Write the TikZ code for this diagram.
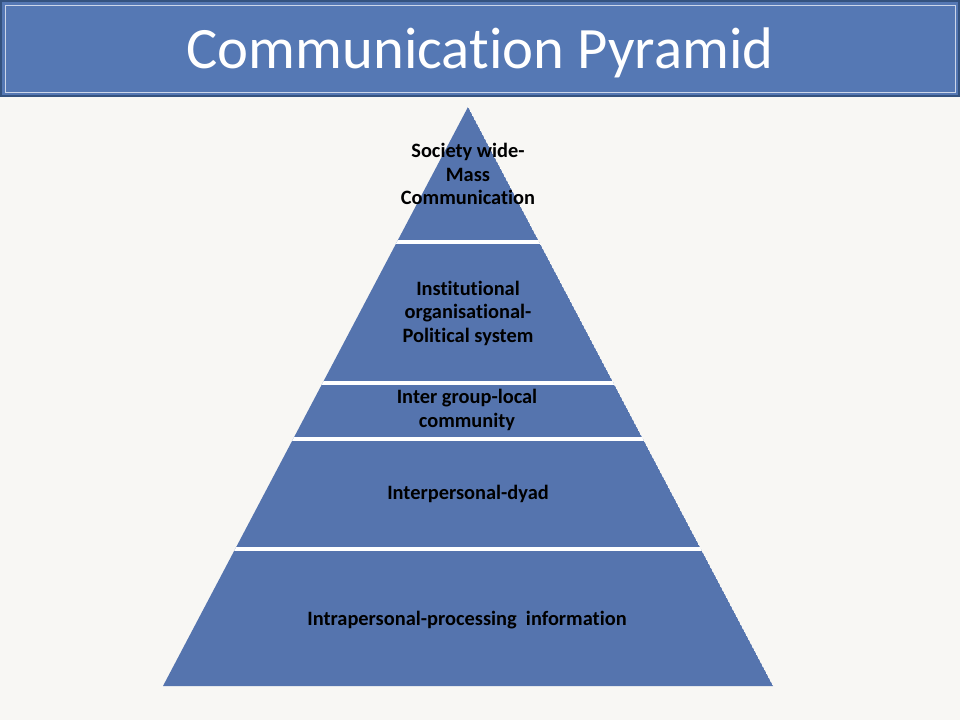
\documentclass[tikz,border=0pt]{standalone}
\usepackage{fontspec}
\setmainfont{Carlito}[Ligatures=NoCommon]
\usetikzlibrary{calc}
\definecolor{paper}{HTML}{F8F7F4}
\definecolor{barblue}{HTML}{5578B4}
\definecolor{barline}{HTML}{34527F}
\definecolor{pyrblue}{HTML}{5574AE}
\tikzset{
  level/.style={align=center,text=black,font=\bfseries\fontsize{15.3}{17.6}\selectfont},
  headline/.style={text=white,font=\fontsize{44}{50}\selectfont}
}

\begin{document}
\begin{tikzpicture}[x=0.75pt,y=-0.75pt]
\fill[paper] (0,0) rectangle (960,720);
\useasboundingbox (0,0) rectangle (960,720);
% title bar
\draw[fill=barblue,draw=barline,line width=2.2pt] (1,1) rectangle (959,96);
\draw[white!70!barblue,line width=0.6pt] (5,5) rectangle (955,92);
\node[headline,anchor=base] (title) at (480,69) {Communication Pyramid};
% pyramid
\coordinate (apex) at (468,107);
\coordinate (bl) at (163,686);
\coordinate (br) at (773,686);
\begin{scope}
\clip (apex) -- (br) -- (bl) -- cycle;
\fill[pyrblue] (apex) -- (br) -- (bl) -- cycle;
\foreach \y in {242,383,439,549}
  \draw[white,line width=2.6pt] (100,\y) -- (860,\y);
\end{scope}
% level texts
\node[level] (mass) at (468,174) {Society wide-\\Mass\\Communication};
\node[level] (inst) at (468,313) {Institutional\\organisational-\\Political system};
\node[level] (group) at (467,410) {Inter group-local\\community};
\node[level,anchor=base] (dyad) at (468,499) {Interpersonal-dyad};
\node[level,anchor=base] (intra) at (467,625) {Intrapersonal-processing~~information};
\end{tikzpicture}
\end{document}
